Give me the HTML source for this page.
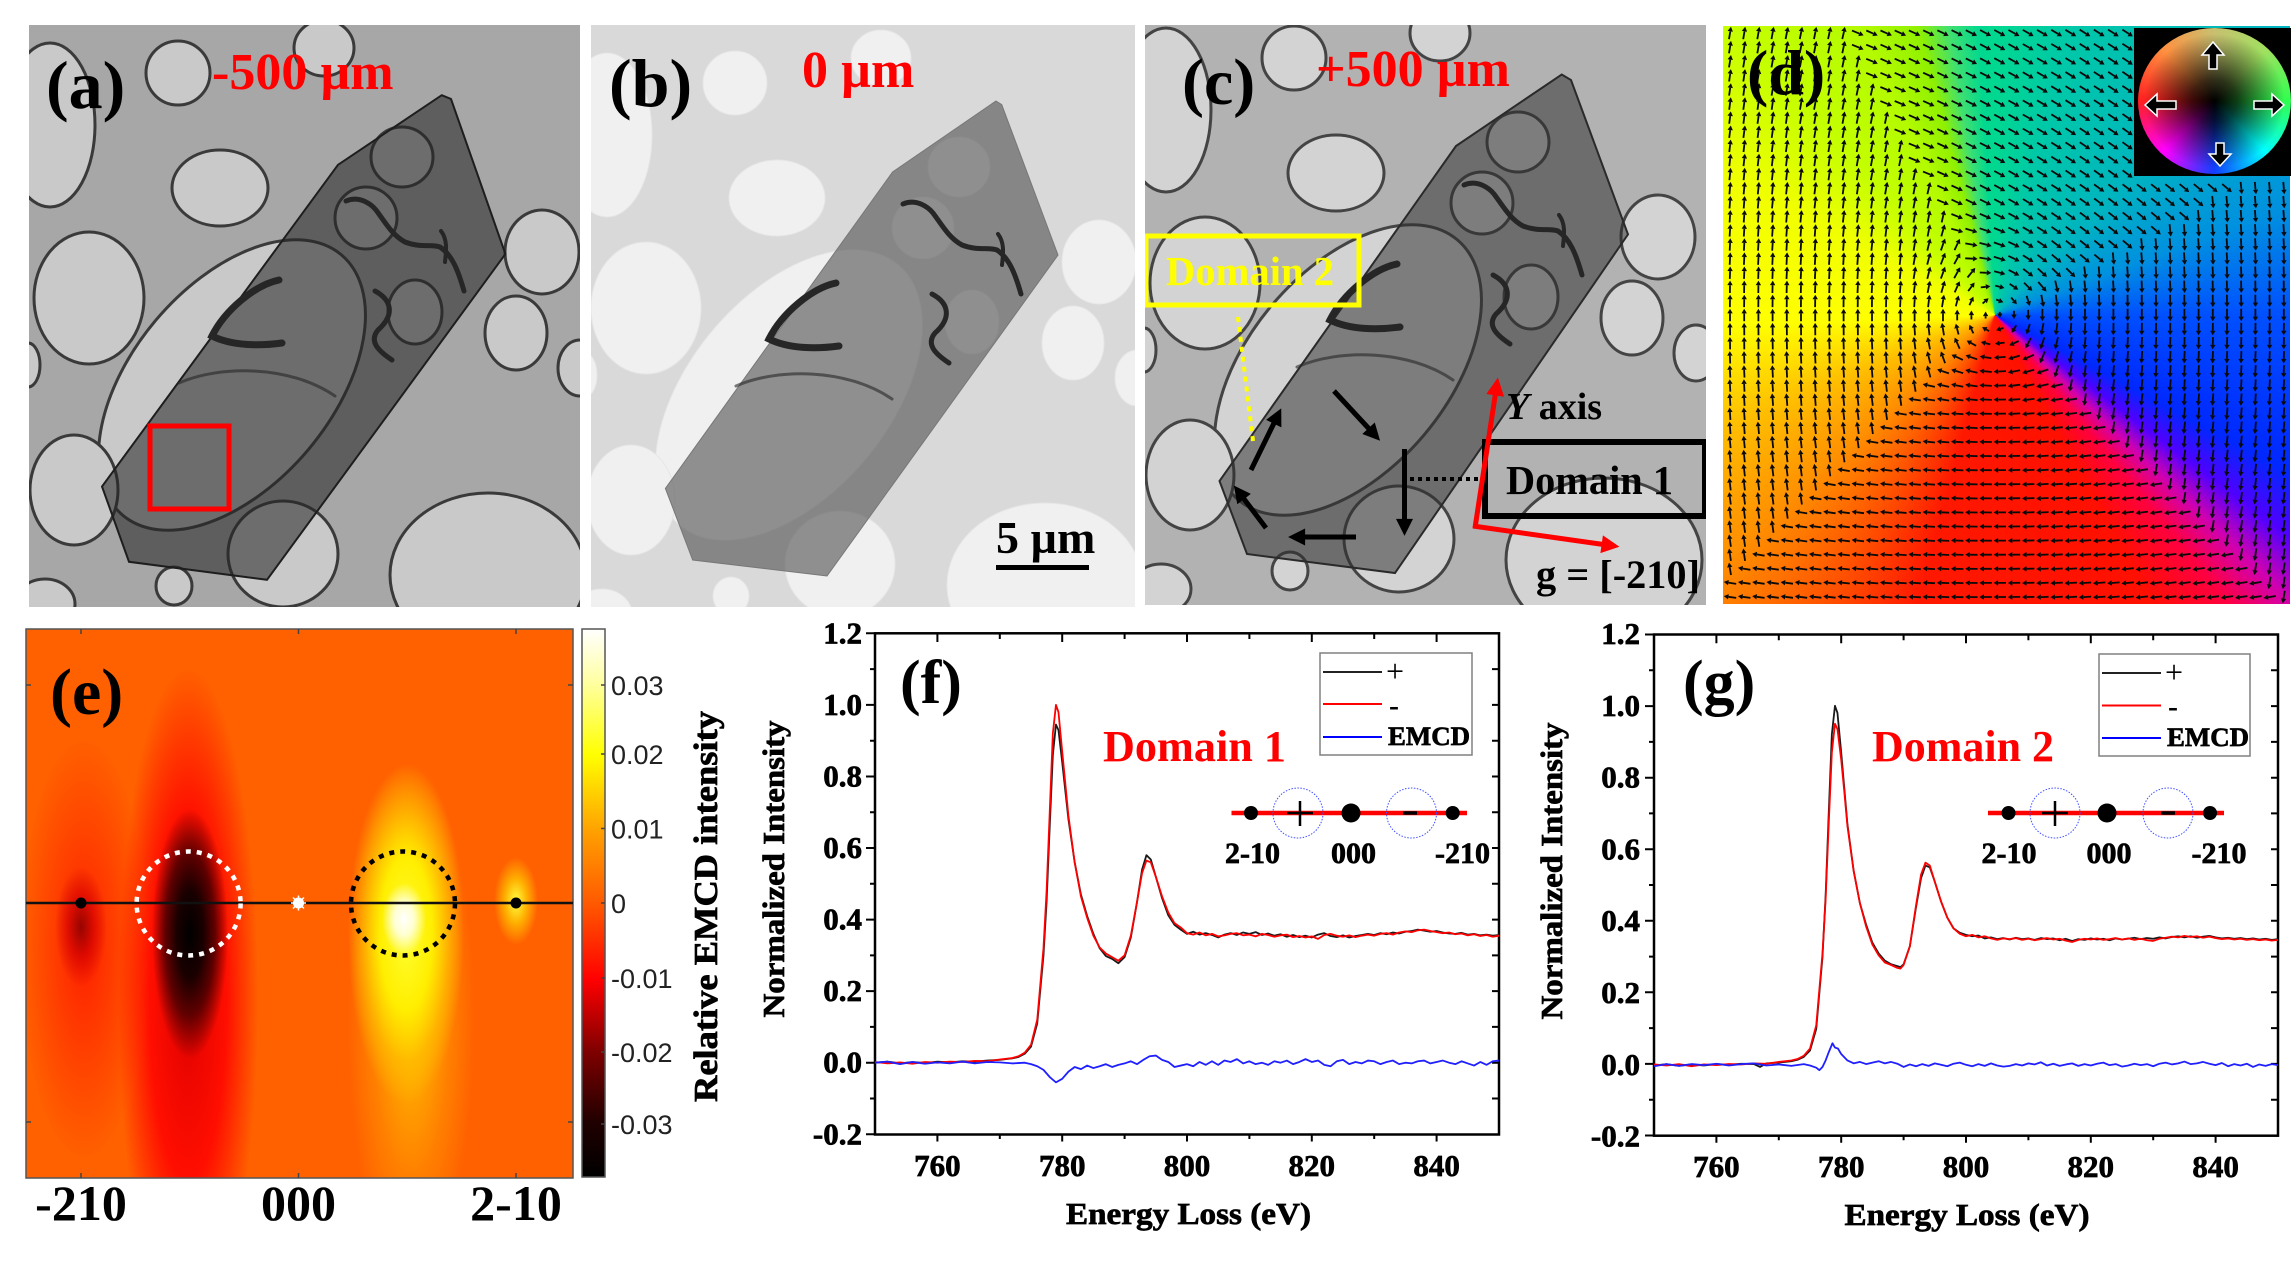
<!DOCTYPE html>
<html><head><meta charset="utf-8">
<style>
html,body{margin:0;padding:0;background:#fff;}
body{width:2296px;height:1262px;position:relative;overflow:hidden;}
.abs{position:absolute;}
#dbg{left:1723px;top:26px;width:567px;height:578px;
background:conic-gradient(from 0deg at 272px 289px,#00d890 0deg,#00c8a8 15deg,#00b4c0 45deg,#0090e0 70deg,#0050ff 90deg,#0028ff 118deg,#5000ff 127deg,#d000b0 134deg,#ff0040 141deg,#ff1000 152deg,#ff1800 195deg,#ff5000 210deg,#ff9000 228deg,#ffc000 248deg,#ffff00 268deg,#f0ff00 298deg,#c4ff00 318deg,#b4fa00 335deg,#90f000 345deg,#40e070 351deg,#00d890 357deg,#00d890 360deg);}
#wbox{left:2134px;top:28px;width:157px;height:148px;background:#000;}
#wheel{left:2138px;top:28px;width:153px;height:146px;border-radius:50%;
background:radial-gradient(closest-side,#000 0%,rgba(0,0,0,.75) 30%,rgba(0,0,0,0) 92%),conic-gradient(from 0deg,#c8c070 0deg,#a0e060 45deg,#30ff50 90deg,#00ffff 135deg,#1040ff 180deg,#ff00ff 225deg,#ff2020 270deg,#ff9040 315deg,#c8c070 360deg);}
#hm{left:26px;top:629px;width:547px;height:549px;background:
radial-gradient(22px 36px at 378px 290px,#ffffff 0%,#ffffd0 45%,rgba(255,255,120,0) 100%),
radial-gradient(58px 170px at 380px 305px,#ffff30 0%,#ffee00 45%,rgba(255,190,0,.7) 75%,rgba(255,120,0,0) 100%),
radial-gradient(64px 260px at 385px 390px,rgba(255,210,0,.85) 0%,rgba(255,160,0,.5) 60%,rgba(255,110,0,0) 100%),
radial-gradient(22px 44px at 490px 272px,#ffff40 0%,rgba(255,210,0,.7) 50%,rgba(255,110,0,0) 100%),
radial-gradient(38px 125px at 164px 305px,#000 0%,#1a0000 35%,#600000 65%,rgba(190,0,0,0) 100%),
radial-gradient(70px 330px at 162px 370px,#e00000 0%,rgba(255,0,0,.85) 55%,rgba(255,70,0,0) 100%),
radial-gradient(26px 60px at 55px 298px,rgba(140,0,0,.9) 0%,rgba(210,0,0,.7) 50%,rgba(255,40,0,0) 100%),
radial-gradient(64px 210px at 58px 320px,rgba(255,20,0,.85) 0%,rgba(255,70,0,0) 100%),
#ff6000;}
#cb{left:582px;top:629px;width:23px;height:548px;background:linear-gradient(to top,#000 0%,#200000 10%,#800000 23%,#ff0000 36%,#ff5a00 50%,#ffa000 63%,#ffff00 77%,#ffffa0 90%,#fff 100%);}
svg{position:absolute;left:0;top:0;}
.s{font-family:"Liberation Serif","Times New Roman",serif;font-weight:bold;}
.n{font-family:"Liberation Serif","Times New Roman",serif;}
.ss{font-family:"Liberation Sans",Arial,sans-serif;}
.th{stroke:#000;stroke-width:0.7px;}
</style></head>
<body>
<div id="dbg" class="abs"></div>
<div id="wbox" class="abs"></div>
<div id="wheel" class="abs"></div>
<div id="hm" class="abs"></div>
<div id="cb" class="abs"></div>

<svg width="2296" height="1262" viewBox="0 0 2296 1262">
<defs>
<clipPath id="cpA"><rect x="29" y="25" width="551" height="582"/></clipPath>
<clipPath id="cpB"><rect x="591" y="25" width="544" height="582"/></clipPath>
<clipPath id="cpC"><rect x="1145" y="25" width="561" height="580"/></clipPath>
<clipPath id="cpD"><rect x="1723" y="26" width="567" height="578"/></clipPath>
<g id="holes">
<ellipse cx="50" cy="125" rx="45" ry="82"/>
<ellipse cx="178" cy="73" rx="32" ry="32"/>
<ellipse cx="324" cy="48" rx="30" ry="28"/>
<ellipse cx="220" cy="188" rx="48" ry="38"/>
<ellipse cx="89" cy="298" rx="55" ry="66"/>
<ellipse cx="232" cy="385" rx="170" ry="100" transform="rotate(-50 232 385)"/>
<ellipse cx="542" cy="252" rx="37" ry="42"/>
<ellipse cx="516" cy="333" rx="31" ry="37"/>
<ellipse cx="580" cy="368" rx="22" ry="28"/>
<ellipse cx="488" cy="575" rx="98" ry="82"/>
<ellipse cx="74" cy="490" rx="44" ry="55"/>
<ellipse cx="283" cy="554" rx="55" ry="53"/>
<ellipse cx="174" cy="586" rx="18" ry="19"/>
<ellipse cx="45" cy="604" rx="30" ry="25"/>
<ellipse cx="28" cy="365" rx="12" ry="22"/>
<ellipse cx="402" cy="157" rx="31" ry="30"/>
<ellipse cx="366" cy="218" rx="31" ry="31"/>
<ellipse cx="415" cy="312" rx="27" ry="32"/>
</g>
<g id="fr" fill="none" stroke="#262626" stroke-linecap="round">
<path d="M279,280 C255,285 225,310 212,336 C232,346 260,346 282,343" stroke-width="7"/>
<path d="M346,201 C360,195 372,205 376,210 C385,222 392,235 405,242 C420,248 432,244 440,247 C452,255 458,270 464,291" stroke-width="5"/>
<path d="M375,291 C392,300 395,315 378,330 C368,342 380,352 392,360" stroke-width="5"/>
<path d="M441,231 C448,240 446,252 445,262" stroke-width="4"/>
<path d="M179,383 C220,365 290,365 335,396" stroke-width="3" opacity=".6"/>
</g>
<marker id="ahk" viewBox="0 0 10 10" refX="3" refY="5" markerWidth="4" markerHeight="3.4" orient="auto"><path d="M0,0 L10,5 L0,10 z" fill="#000"/></marker>
<marker id="ahr" viewBox="0 0 10 10" refX="3" refY="5" markerWidth="4.4" markerHeight="3.6" orient="auto"><path d="M0,0 L10,5 L0,10 z" fill="#ff0000"/></marker>
<g id="axF" fill="none" stroke="#000">
<rect x="875" y="633.3" width="624" height="501.2" stroke-width="2.5"/>
<path stroke-width="2" d="M866,1134.3H875M870,1098.5H875M866,1062.7H875M870,1026.9H875M866,991.1H875M870,955.4H875M866,919.6H875M870,883.8H875M866,848H875M870,812.2H875M866,776.5H875M870,740.7H875M866,704.9H875M870,669.1H875M866,633.3H875
M1492,1098.5H1499M1492,1062.7H1499M1492,1026.9H1499M1492,991.1H1499M1492,955.4H1499M1492,919.6H1499M1492,883.8H1499M1492,848H1499M1492,812.2H1499M1492,776.5H1499M1492,740.7H1499M1492,704.9H1499M1492,669.1H1499
M937.4,1134.5V1141.5M999.8,1134.5V1139M1062.2,1134.5V1141.5M1124.6,1134.5V1139M1187,1134.5V1141.5M1249.4,1134.5V1139M1311.8,1134.5V1141.5M1374.2,1134.5V1139M1436.6,1134.5V1141.5
M937.4,633.3V642M999.8,633.3V639M1062.2,633.3V642M1124.6,633.3V639M1187,633.3V642M1249.4,633.3V639M1311.8,633.3V642M1374.2,633.3V639M1436.6,633.3V642"/>
</g>
</defs>

<!-- Panel (a) -->
<g clip-path="url(#cpA)">
<rect x="29" y="25" width="551" height="582" fill="#a7a7a7"/>
<use href="#holes" fill="#c9c9c9" stroke="#3a3a3a" stroke-width="3"/>
<polygon points="441.7,95.2 451,99 505.4,254 267,579.8 129,561.8 102,486.5 338,164.8" fill="#262626" fill-opacity=".56" stroke="#1e1e1e" stroke-width="2"/>
<use href="#fr"/>
<rect x="150" y="426" width="79" height="83" fill="none" stroke="#ff0000" stroke-width="5"/>
</g>
<text class="s" x="46" y="108" font-size="68">(a)</text>
<text class="s" x="212" y="89" font-size="52" fill="#ff0000">-500 µm</text>

<!-- Panel (b) -->
<g clip-path="url(#cpB)">
<rect x="591" y="25" width="544" height="582" fill="#d9d9d9"/>
<use href="#holes" transform="translate(557,10)" fill="#f0f0f0" stroke="#e6e6e6" stroke-width="1"/>
<polygon points="996,101 1001.7,104.6 1058,255 827,576 692.7,560 665.4,488.4 892.6,172" fill="#4e4e4e" fill-opacity=".6" stroke="#777" stroke-width="1"/>
<use href="#fr" transform="translate(557,3)"/>
</g>
<text class="s" x="609" y="106" font-size="68">(b)</text>
<text class="s" x="802" y="87" font-size="52" fill="#ff0000">0 µm</text>
<text class="s" x="996" y="553" font-size="46">5 µm</text>
<rect x="996" y="565" width="93" height="5" fill="#000"/>

<!-- Panel (c) -->
<g clip-path="url(#cpC)">
<rect x="1145" y="25" width="561" height="580" fill="#b2b2b2"/>
<use href="#holes" transform="translate(1116,-15)" fill="#d3d3d3" stroke="#444" stroke-width="3"/>
<polygon points="1561.7,74.5 1571,80 1628,234.4 1395,573 1247,554 1219.5,481 1456,146" fill="#2e2e2e" fill-opacity=".52" stroke="#2a2a2a" stroke-width="2"/>
<use href="#fr" transform="translate(1118,-16)"/>
<rect x="1146" y="236" width="213" height="69" fill="none" stroke="#ffff00" stroke-width="5"/>
<line x1="1238" y1="317" x2="1253" y2="441" stroke="#ffff00" stroke-width="4" stroke-dasharray="5 5"/>
<g stroke="#000" stroke-width="5" fill="none">
<line x1="1334" y1="391" x2="1372" y2="432" marker-end="url(#ahk)"/>
<line x1="1404.5" y1="449" x2="1404.5" y2="524" marker-end="url(#ahk)"/>
<line x1="1356" y1="537" x2="1300" y2="537" marker-end="url(#ahk)"/>
<line x1="1266" y1="528" x2="1241" y2="495" marker-end="url(#ahk)"/>
<line x1="1251" y1="470" x2="1276" y2="419" marker-end="url(#ahk)"/>
</g>
<line x1="1410" y1="479" x2="1480" y2="479" stroke="#000" stroke-width="4" stroke-dasharray="4 4"/>
<rect x="1485" y="442" width="220" height="74" fill="none" stroke="#000" stroke-width="6"/>
<g stroke="#ff0000" stroke-width="5" fill="none">
<line x1="1475" y1="528" x2="1496" y2="390" marker-end="url(#ahr)"/>
<line x1="1473" y1="526" x2="1607" y2="545" marker-end="url(#ahr)"/>
</g>
</g>
<text class="s" x="1182" y="104" font-size="66">(c)</text>
<text class="s" x="1316" y="86" font-size="52" fill="#ff0000">+500 µm</text>
<text class="s" x="1166" y="285" font-size="41" fill="#ffff00" textLength="168" lengthAdjust="spacingAndGlyphs">Domain 2</text>
<text class="s" x="1506" y="494" font-size="41" textLength="167" lengthAdjust="spacingAndGlyphs">Domain 1</text>
<text class="s" x="1506" y="419" font-size="38"><tspan font-style="italic">Y</tspan> axis</text>
<text class="s" x="1536" y="588" font-size="40" textLength="164" lengthAdjust="spacingAndGlyphs">g = [-210]</text>

<!-- Panel (d) -->
<g clip-path="url(#cpD)">
<path id="arr" d="" stroke="#0a0a0a" stroke-width="1.8" fill="none"/>
<path id="arrh" d="" fill="#0a0a0a"/>
</g>
<g fill="#000" stroke="#fff" stroke-width="1.5">
<path d="M2213,42 L2224,55 L2217,55 L2217,69 L2209,69 L2209,55 L2202,55 Z"/>
<path d="M2145,105 L2157,94 L2157,101 L2176,101 L2176,109 L2157,109 L2157,116 Z"/>
<path d="M2284,105 L2272,94 L2272,101 L2254,101 L2254,109 L2272,109 L2272,116 Z"/>
<path d="M2220,166 L2231,154 L2224,154 L2224,143 L2216,143 L2216,154 L2209,154 Z"/>
</g>
<text class="s" x="1747" y="94" font-size="64">(d)</text>

<!-- Panel (e) -->
<rect x="26" y="629" width="547" height="549" fill="none" stroke="#555" stroke-width="1.5"/>
<path d="M26,685H31M26,1122H31M573,685H568M573,1122H568M81,1178V1173M298.5,1178V1173M516,1178V1173M81,629V634M298.5,629V634M516,629V634" stroke="#444" stroke-width="1.5"/>
<rect x="582" y="629" width="23" height="548" fill="none" stroke="#555" stroke-width="1.5"/>
<path d="M605,685H601M605,754H601M605,828.5H601M605,903H601M605,978H601M605,1052H601M605,1124H601" stroke="#444" stroke-width="1.5"/>
<line x1="26" y1="903" x2="573" y2="903" stroke="#111" stroke-width="2.5"/>
<circle cx="81" cy="903" r="5.5" fill="#000"/>
<circle cx="516" cy="903" r="5.5" fill="#000"/>
<circle cx="298.5" cy="903" r="5.5" fill="#fff"/>
<path d="M291,903H306M298.5,895.5V910.5M293,897.5L304,908.5M304,897.5L293,908.5" stroke="#fff" stroke-width="1.5"/>
<circle cx="188.6" cy="903.5" r="52" fill="none" stroke="#fff" stroke-width="4.5" stroke-dasharray="5 6"/>
<circle cx="403" cy="903.5" r="52" fill="none" stroke="#000" stroke-width="4.5" stroke-dasharray="5 6"/>
<text class="s" x="50" y="714" font-size="66">(e)</text>
<g class="ss" font-size="27" fill="#222">
<text x="611" y="695">0.03</text>
<text x="611" y="764">0.02</text>
<text x="611" y="838.5">0.01</text>
<text x="611" y="913">0</text>
<text x="611" y="988">-0.01</text>
<text x="611" y="1062">-0.02</text>
<text x="611" y="1134">-0.03</text>
</g>
<text class="s th" transform="translate(717,906.5) rotate(-90)" text-anchor="middle" font-size="34" textLength="391" lengthAdjust="spacingAndGlyphs">Relative EMCD intensity</text>
<g class="s" font-size="50" text-anchor="middle">
<text x="81" y="1220">-210</text>
<text x="298.5" y="1220">000</text>
<text x="516" y="1220">2-10</text>
</g>

<!-- Panel (f) -->
<use href="#axF"/>
<g class="s th" font-size="31" text-anchor="end">
<text x="862" y="1144.3">-0.2</text>
<text x="862" y="1072.7">0.0</text>
<text x="862" y="1001.1">0.2</text>
<text x="862" y="929.6">0.4</text>
<text x="862" y="858">0.6</text>
<text x="862" y="786.5">0.8</text>
<text x="862" y="714.9">1.0</text>
<text x="862" y="643.3">1.2</text>
</g>
<g class="s th" font-size="31" text-anchor="middle">
<text x="937.4" y="1176">760</text>
<text x="1062.2" y="1176">780</text>
<text x="1187" y="1176">800</text>
<text x="1311.8" y="1176">820</text>
<text x="1436.6" y="1176">840</text>
</g>
<text class="s th" x="1188.5" y="1224" font-size="31" text-anchor="middle" textLength="245" lengthAdjust="spacingAndGlyphs">Energy Loss (eV)</text>
<text class="s th" transform="translate(784,869) rotate(-90)" text-anchor="middle" font-size="31" textLength="297" lengthAdjust="spacingAndGlyphs">Normalized Intensity</text>
<text class="s" x="900" y="703" font-size="62">(f)</text>
<text class="s" x="1103" y="761" font-size="44" fill="#ff0000" textLength="183" lengthAdjust="spacingAndGlyphs">Domain 1</text>
<rect x="1320" y="653" width="152" height="102" fill="none" stroke="#808080" stroke-width="1.5"/>
<line x1="1323" y1="672" x2="1382" y2="672" stroke="#222" stroke-width="2"/>
<line x1="1323" y1="704" x2="1382" y2="704" stroke="#ff0000" stroke-width="2"/>
<line x1="1323" y1="737" x2="1382" y2="737" stroke="#0000ff" stroke-width="2"/>
<text class="n" x="1386" y="682" font-size="32">+</text>
<text class="s" x="1389" y="715" font-size="30">-</text>
<text class="s th" x="1388" y="745" font-size="26" textLength="82" lengthAdjust="spacingAndGlyphs">EMCD</text>
<line x1="1231.5" y1="813" x2="1467" y2="813" stroke="#ff0000" stroke-width="4.5"/>
<circle cx="1251" cy="813" r="7" fill="#000"/>
<circle cx="1351" cy="813" r="9.5" fill="#000"/>
<circle cx="1452.7" cy="813" r="7" fill="#000"/>
<circle cx="1298" cy="813" r="25" fill="none" stroke="#4050ff" stroke-width="1" stroke-dasharray="1.5 1.5"/>
<circle cx="1411.5" cy="813" r="25" fill="none" stroke="#4050ff" stroke-width="1" stroke-dasharray="1.5 1.5"/>
<path d="M1287,813H1313M1300,801V826" stroke="#000" stroke-width="2.5"/>
<path d="M1403,813H1417" stroke="#000" stroke-width="3.5"/>
<g class="s th" font-size="30" text-anchor="middle">
<text x="1252.5" y="863">2-10</text>
<text x="1353.5" y="863">000</text>
<text x="1462.5" y="863">-210</text>
</g>
<g fill="none" stroke-width="1.8" stroke-linejoin="round">
<g transform="matrix(6.24 0 0 -357.8 -3805 1062.7)">
<path vector-effect="non-scaling-stroke" stroke="#1a1a1a" d="M750,0.000 L752,0.003 L754,-0.002 L756,0.002 L758,-0.001 L760,0.003 L762,0.001 L764,0.004 L766,0.003 L768,0.006 L770,0.008 L772,0.012 L773,0.016 L774,0.025 L775,0.045 L776,0.11 L777,0.30 L777.5,0.45 L778,0.66 L778.5,0.86 L779,0.945 L779.4,0.93 L780,0.84 L780.5,0.76 L781,0.68 L782,0.56 L783,0.47 L784,0.41 L785,0.36 L786,0.32 L787,0.298 L788,0.29 L789,0.278 L790,0.295 L791,0.35 L792,0.45 L792.8,0.54 L793.5,0.58 L794.2,0.568 L795,0.52 L796,0.46 L797,0.412 L798,0.385 L799,0.372 L800,0.36 L801,0.366 L802,0.358 L803,0.362 L804,0.357 L805,0.35 L806,0.358 L807,0.362 L808,0.357 L809,0.364 L810,0.36 L811,0.365 L812,0.357 L813,0.361 L814,0.355 L815,0.359 L816,0.352 L817,0.357 L818,0.351 L819,0.355 L820,0.35 L821,0.358 L822,0.362 L823,0.354 L824,0.351 L825,0.356 L826,0.35 L827,0.354 L828,0.357 L829,0.36 L830,0.357 L831,0.362 L832,0.359 L833,0.364 L834,0.361 L835,0.366 L836,0.368 L837,0.372 L838,0.369 L839,0.366 L840,0.368 L841,0.364 L842,0.361 L843,0.36 L844,0.363 L845,0.358 L846,0.36 L847,0.356 L848,0.358 L849,0.355 L850,0.357"/>
<path vector-effect="non-scaling-stroke" stroke="#ff0000" d="M750,0.002 L752,-0.002 L754,0.001 L756,-0.003 L758,0.002 L760,0.000 L762,0.003 L764,0.002 L766,0.005 L768,0.004 L770,0.009 L772,0.013 L773,0.018 L774,0.028 L775,0.05 L776,0.12 L777,0.32 L777.5,0.48 L778,0.70 L778.5,0.92 L779,1.0 L779.4,0.98 L780,0.87 L780.5,0.78 L781,0.69 L782,0.56 L783,0.465 L784,0.405 L785,0.355 L786,0.322 L787,0.305 L788,0.295 L789,0.285 L790,0.30 L791,0.355 L792,0.45 L792.8,0.53 L793.5,0.565 L794.2,0.56 L795,0.52 L796,0.465 L797,0.42 L798,0.39 L799,0.378 L800,0.362 L801,0.358 L802,0.364 L803,0.356 L804,0.36 L805,0.353 L806,0.356 L807,0.36 L808,0.362 L809,0.356 L810,0.358 L811,0.353 L812,0.36 L813,0.357 L814,0.352 L815,0.356 L816,0.358 L817,0.351 L818,0.354 L819,0.35 L820,0.353 L821,0.346 L822,0.357 L823,0.36 L824,0.355 L825,0.352 L826,0.356 L827,0.351 L828,0.355 L829,0.358 L830,0.355 L831,0.36 L832,0.362 L833,0.358 L834,0.364 L835,0.367 L836,0.365 L837,0.37 L838,0.372 L839,0.368 L840,0.365 L841,0.362 L842,0.364 L843,0.359 L844,0.361 L845,0.356 L846,0.359 L847,0.354 L848,0.357 L849,0.352 L850,0.355"/>
<path vector-effect="non-scaling-stroke" stroke="#1f1fff" d="M750,0 L752,0.003 L754,-0.004 L756,0.002 L758,-0.003 L760,0.001 L762,-0.002 L764,0.003 L766,-0.002 L768,0.002 L770,0.001 L772,-0.002 L774,0.000 L775,-0.004 L776,-0.01 L777,-0.02 L778,-0.04 L779,-0.055 L780,-0.045 L781,-0.025 L782,-0.012 L783,-0.018 L784,-0.008 L785,-0.015 L786,-0.01 L787,-0.004 L788,-0.012 L789,-0.006 L790,-0.002 L791,0.004 L792,-0.004 L793,0.008 L794,0.018 L795,0.02 L796,0.008 L797,0.002 L798,-0.012 L799,-0.008 L800,-0.004 L801,-0.01 L802,0.002 L803,-0.006 L804,0.004 L805,-0.006 L806,0.006 L807,0.002 L808,0.01 L809,-0.002 L810,0.004 L811,-0.004 L812,0 L813,-0.006 L814,0.004 L815,0 L816,0.006 L817,-0.004 L818,0.002 L819,0.01 L820,0.002 L821,0.006 L822,-0.006 L823,-0.01 L824,0.004 L825,0.008 L826,-0.004 L827,0.002 L828,-0.002 L829,0.006 L830,0.004 L831,-0.004 L832,0.002 L833,0.006 L834,-0.004 L835,0 L836,-0.002 L837,0.004 L838,0.006 L839,-0.002 L840,0.002 L841,0.006 L842,0 L843,-0.004 L844,0.004 L845,-0.002 L846,-0.008 L847,0.002 L848,-0.006 L849,0.004 L850,0.006"/>
</g>
</g>

<!-- Panel (g) -->
<use href="#axF" transform="translate(779,1.2)"/>
<g class="s th" font-size="31" text-anchor="end">
<text x="1640" y="1146.6">-0.2</text>
<text x="1640" y="1074.8">0.0</text>
<text x="1640" y="1003">0.2</text>
<text x="1640" y="931.2">0.4</text>
<text x="1640" y="859.4">0.6</text>
<text x="1640" y="787.6">0.8</text>
<text x="1640" y="715.8">1.0</text>
<text x="1640" y="644">1.2</text>
</g>
<g class="s th" font-size="31" text-anchor="middle">
<text x="1716.4" y="1177">760</text>
<text x="1841.2" y="1177">780</text>
<text x="1966" y="1177">800</text>
<text x="2090.8" y="1177">820</text>
<text x="2215.6" y="1177">840</text>
</g>
<text class="s th" x="1967" y="1225" font-size="31" text-anchor="middle" textLength="245" lengthAdjust="spacingAndGlyphs">Energy Loss (eV)</text>
<text class="s th" transform="translate(1562,871) rotate(-90)" text-anchor="middle" font-size="31" textLength="297" lengthAdjust="spacingAndGlyphs">Normalized Intensity</text>
<text class="s" x="1683" y="703" font-size="62">(g)</text>
<text class="s" x="1872" y="761" font-size="44" fill="#ff0000" textLength="182" lengthAdjust="spacingAndGlyphs">Domain 2</text>
<rect x="2099" y="654" width="151" height="102" fill="none" stroke="#808080" stroke-width="1.5"/>
<line x1="2102" y1="673" x2="2161" y2="673" stroke="#222" stroke-width="2"/>
<line x1="2102" y1="705.5" x2="2161" y2="705.5" stroke="#ff0000" stroke-width="2"/>
<line x1="2102" y1="738" x2="2161" y2="738" stroke="#0000ff" stroke-width="2"/>
<text class="n" x="2165" y="683" font-size="32">+</text>
<text class="s" x="2168" y="716" font-size="30">-</text>
<text class="s th" x="2167" y="746" font-size="26" textLength="82" lengthAdjust="spacingAndGlyphs">EMCD</text>
<line x1="1988" y1="813" x2="2224" y2="813" stroke="#ff0000" stroke-width="4.5"/>
<circle cx="2008.5" cy="813" r="7" fill="#000"/>
<circle cx="2107" cy="813" r="9.5" fill="#000"/>
<circle cx="2210" cy="813" r="7" fill="#000"/>
<circle cx="2055" cy="813" r="25" fill="none" stroke="#4050ff" stroke-width="1" stroke-dasharray="1.5 1.5"/>
<circle cx="2168" cy="813" r="25" fill="none" stroke="#4050ff" stroke-width="1" stroke-dasharray="1.5 1.5"/>
<path d="M2042,813H2068M2055,801V826" stroke="#000" stroke-width="2.5"/>
<path d="M2161,813H2175" stroke="#000" stroke-width="3.5"/>
<g class="s th" font-size="30" text-anchor="middle">
<text x="2009" y="863">2-10</text>
<text x="2109" y="863">000</text>
<text x="2219" y="863">-210</text>
</g>
<g fill="none" stroke-width="1.8" stroke-linejoin="round">
<g transform="matrix(6.24 0 0 -359 -3026 1064.8)">
<path vector-effect="non-scaling-stroke" stroke="#1a1a1a" d="M750,-0.002 L752,0.002 L754,-0.003 L756,0.001 L758,-0.002 L760,0.002 L762,0.000 L764,0.003 L766,0.002 L767,-0.006 L768,0.004 L770,0.006 L772,0.01 L773,0.014 L774,0.022 L775,0.04 L776,0.1 L777,0.3 L777.5,0.47 L778,0.7 L778.5,0.92 L779,1.0 L779.4,0.98 L780,0.87 L780.5,0.77 L781,0.67 L782,0.54 L783,0.45 L784,0.39 L785,0.34 L786,0.31 L787,0.29 L788,0.28 L789,0.275 L789.5,0.272 L790,0.28 L791,0.33 L792,0.44 L792.8,0.52 L793.5,0.555 L794.2,0.55 L795,0.51 L796,0.455 L797,0.41 L798,0.38 L799,0.368 L800,0.362 L801,0.358 L802,0.36 L803,0.352 L804,0.355 L805,0.35 L806,0.353 L807,0.349 L808,0.354 L809,0.35 L810,0.352 L811,0.348 L812,0.353 L813,0.35 L814,0.352 L815,0.347 L816,0.351 L817,0.345 L818,0.35 L819,0.348 L820,0.352 L821,0.349 L822,0.351 L823,0.347 L824,0.352 L825,0.349 L826,0.351 L827,0.354 L828,0.35 L829,0.353 L830,0.351 L831,0.355 L832,0.352 L833,0.356 L834,0.358 L835,0.355 L836,0.358 L837,0.354 L838,0.357 L839,0.359 L840,0.355 L841,0.352 L842,0.354 L843,0.351 L844,0.353 L845,0.35 L846,0.352 L847,0.349 L848,0.351 L849,0.348 L850,0.35"/>
<path vector-effect="non-scaling-stroke" stroke="#ff0000" d="M750,0.001 L752,-0.002 L754,0.002 L756,-0.004 L758,0.001 L760,-0.001 L762,0.002 L764,0.001 L766,0.004 L768,0.003 L770,0.008 L772,0.012 L773,0.016 L774,0.025 L775,0.045 L776,0.11 L777,0.31 L777.5,0.46 L778,0.67 L778.5,0.87 L779,0.95 L779.4,0.935 L780,0.85 L780.5,0.76 L781,0.665 L782,0.54 L783,0.45 L784,0.385 L785,0.335 L786,0.305 L787,0.285 L788,0.278 L789,0.27 L789.5,0.268 L790,0.278 L791,0.33 L792,0.445 L792.8,0.53 L793.5,0.563 L794.2,0.555 L795,0.51 L796,0.455 L797,0.41 L798,0.38 L799,0.365 L800,0.358 L801,0.362 L802,0.355 L803,0.358 L804,0.352 L805,0.348 L806,0.352 L807,0.35 L808,0.353 L809,0.348 L810,0.351 L811,0.347 L812,0.35 L813,0.353 L814,0.349 L815,0.351 L816,0.346 L817,0.342 L818,0.348 L819,0.351 L820,0.349 L821,0.352 L822,0.348 L823,0.35 L824,0.353 L825,0.349 L826,0.352 L827,0.348 L828,0.351 L829,0.347 L830,0.345 L831,0.351 L832,0.354 L833,0.357 L834,0.355 L835,0.359 L836,0.356 L837,0.358 L838,0.354 L839,0.357 L840,0.353 L841,0.35 L842,0.352 L843,0.349 L844,0.351 L845,0.348 L846,0.35 L847,0.347 L848,0.349 L849,0.346 L850,0.348"/>
<path vector-effect="non-scaling-stroke" stroke="#1f1fff" d="M750,-0.004 L752,0.002 L754,-0.003 L756,0.002 L758,-0.001 L760,0.003 L762,-0.002 L764,0.002 L766,0.004 L768,-0.002 L770,0.001 L772,-0.003 L774,0.002 L775,-0.002 L776,-0.008 L776.5,-0.015 L777,-0.006 L777.5,0.012 L778,0.035 L778.6,0.06 L779,0.048 L779.5,0.045 L780,0.03 L781,0.012 L782,0.004 L783,0.008 L784,0.002 L785,0.006 L786,0.01 L787,0.004 L788,0.008 L789,0.003 L790,-0.006 L791,0.001 L792,-0.004 L793,0.002 L794,-0.003 L795,0.004 L796,0.000 L797,-0.004 L798,0.003 L799,0.006 L800,0.000 L801,-0.004 L802,0.002 L803,-0.003 L804,0.004 L805,-0.002 L806,-0.005 L807,-0.003 L808,0.002 L809,-0.002 L810,0.004 L811,0.001 L812,0.007 L813,-0.002 L814,0.003 L815,-0.003 L816,0.001 L817,0.004 L818,-0.003 L819,0.002 L820,-0.002 L821,0.003 L822,0.006 L823,-0.001 L824,0.002 L825,-0.005 L826,-0.002 L827,0.003 L828,-0.001 L829,0.002 L830,-0.004 L831,0.003 L832,0.006 L833,0.001 L834,0.004 L835,0.009 L836,0.002 L837,0.004 L838,0.008 L839,0.003 L840,-0.001 L841,0.005 L842,-0.004 L843,0.002 L844,-0.002 L845,0.003 L846,-0.006 L847,0.001 L848,-0.003 L849,0.002 L850,-0.001"/>
</g>
</g>
</svg>

<script>
(function(){
var cx=1995,cy=315,d='',h='',doms=[-90,35,90,180];
function wrap(a){while(a>180)a-=360;while(a<=-180)a+=360;return a;}
for(var j=0;j<41;j++){for(var i=0;i<40;i++){
 var x=1730+i*14.2,y=33+j*14.1;
 if(x>2128&&y<183)continue;
 var dx=x-cx,dy=y-cy,r=Math.sqrt(dx*dx+dy*dy);
 var t=Math.atan2(dx,-dy)*180/Math.PI;
 var bd=999;
 for(var k=0;k<4;k++){var df=wrap(doms[k]-t);if(Math.abs(df)<Math.abs(bd)){bd=df;}}
 var w=0.8*Math.min(1,r/110);
 var a=(t+bd*w)*Math.PI/180;
 var L=12.5*Math.min(1,0.45+r/90);
 var ux=Math.cos(a),uy=Math.sin(a);
 var x0=x-ux*L/2,y0=y-uy*L/2,x1=x+ux*L/2,y1=y+uy*L/2;
 var hb=4.6,hw=2.7;
 var bx=x1-ux*hb,by=y1-uy*hb;
 d+='M'+x0.toFixed(1)+','+y0.toFixed(1)+'L'+bx.toFixed(1)+','+by.toFixed(1);
 h+='M'+x1.toFixed(1)+','+y1.toFixed(1)+'L'+(bx-uy*hw).toFixed(1)+','+(by+ux*hw).toFixed(1)+'L'+(bx+uy*hw).toFixed(1)+','+(by-ux*hw).toFixed(1)+'Z';
}}
document.getElementById('arr').setAttribute('d',d);
document.getElementById('arrh').setAttribute('d',h);
})();
</script>
</body></html>
